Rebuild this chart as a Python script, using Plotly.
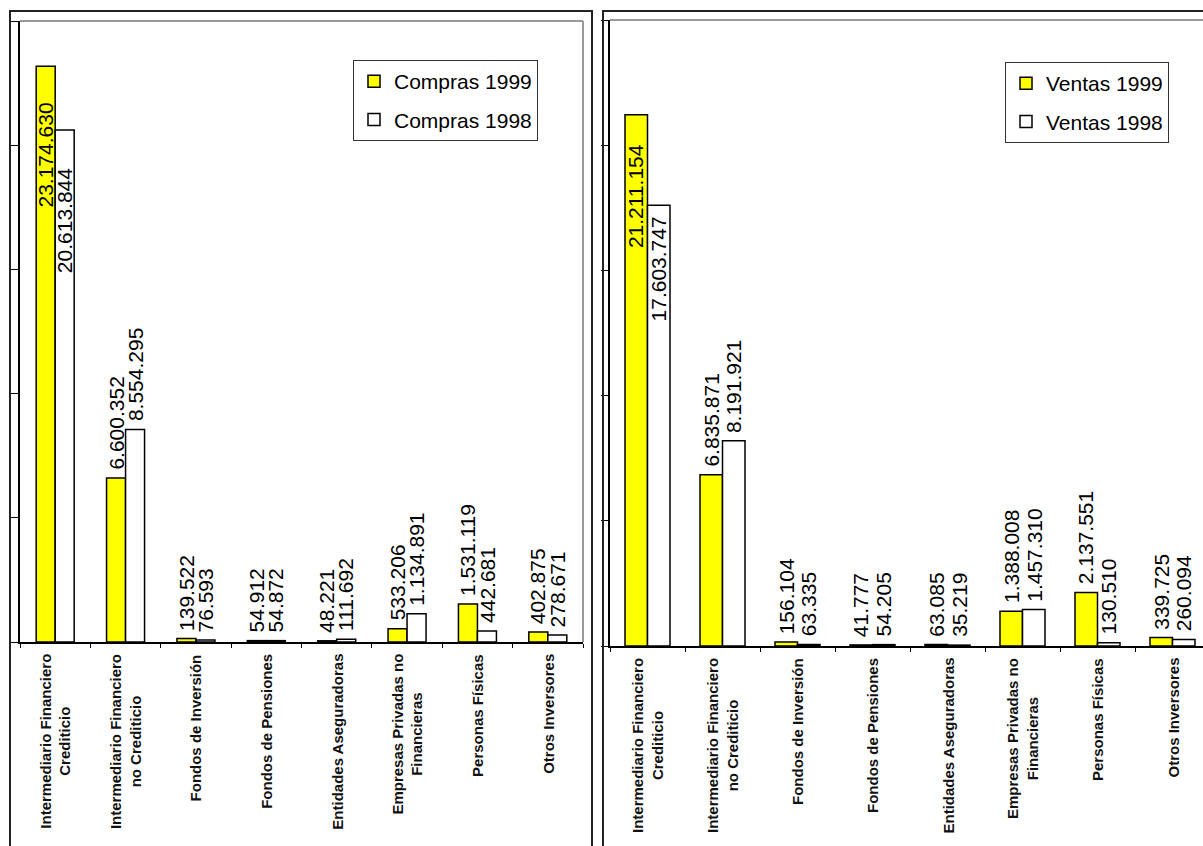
import plotly.graph_objects as go

# ---------------- data ----------------
categories = [
    "Intermediario Financiero<br>Crediticio",
    "Intermediario Financiero<br>no Crediticio",
    "Fondos de Inversión",
    "Fondos de Pensiones",
    "Entidades Aseguradoras",
    "Empresas Privadas no<br>Financieras",
    "Personas Físicas",
    "Otros Inversores",
]
compras_1999 = [23174630, 6600352, 139522, 54912, 48221, 533206, 1531119, 402875]
compras_1998 = [20613844, 8554295, 76593, 54872, 111692, 1134891, 442681, 278671]
ventas_1999 = [21211154, 6835871, 156104, 41777, 63085, 1388008, 2137551, 339725]
ventas_1998 = [17603747, 8191921, 63335, 54205, 35219, 1457310, 130510, 260094]

y_max = 25000000
y_step = 5000000

# label offsets (pixels) for labels drawn inside the tallest bars
inside_gap = {"c99": 34, "c98": 36, "v99": 27, "v98": 9}
outside_gap = 6

W, H = 1203, 846
FONT = "Liberation Sans, Arial, sans-serif"
YELLOW = "#FFFF00"


def fmt(v):
    return f"{v:,}".replace(",", ".")


fig = go.Figure()
xidx = list(range(len(categories)))

panels = [
    dict(xa="x", ya="y", legend="legend", bw=0.27,
         series=[("Compras 1999", compras_1999, YELLOW, "c99"),
                 ("Compras 1998", compras_1998, "white", "c98")]),
    dict(xa="x2", ya="y2", legend="legend2", bw=0.30,
         series=[("Ventas 1999", ventas_1999, YELLOW, "v99"),
                 ("Ventas 1998", ventas_1998, "white", "v98")]),
]

annotations = []
for p in panels:
    for k, (name, vals, col, key) in enumerate(p["series"]):
        off = -p["bw"] if k == 0 else 0.0
        fig.add_trace(go.Bar(
            x=xidx, y=vals, name=name, xaxis=p["xa"], yaxis=p["ya"],
            width=p["bw"], offset=off,
            marker=dict(color=col, line=dict(color="black", width=1.5)),
            legend=p["legend"], legendgroup=name, hoverinfo="skip",
        ))
        for i, v in enumerate(vals):
            inside = v > 15000000
            annotations.append(dict(
                x=i + off + p["bw"] / 2, y=v, xref=p["xa"], yref=p["ya"],
                text=fmt(v), textangle=-90, showarrow=False,
                font=dict(family=FONT, size=21, color="black"),
                xanchor="center",
                yanchor="top" if inside else "bottom",
                yshift=-inside_gap[key] if inside else outside_gap,
            ))
    for i, c in enumerate(categories):
        annotations.append(dict(
            x=i, y=0, xref=p["xa"], yref=p["ya"] + " domain",
            text="<b>" + c.replace("<br>", "</b><br><b>") + "</b>",
            textangle=-90, showarrow=False, align="center",
            font=dict(family=FONT, size=15, color="#111"),
            xanchor="center", yanchor="top", yshift=-10,
        ))

# right panel shows 593 px of a 600 px wide (8 x 75 px) category band
right_range_end = -0.5 + (W - 610) / 75.0

common_x = dict(showgrid=False, zeroline=False, showticklabels=False,
                showline=True, linecolor="black", linewidth=1.5,
                ticks="outside", ticklen=4, tickcolor="black", tickwidth=1,
                tickmode="linear", tick0=-0.5, dtick=1)
common_y = dict(showgrid=False, zeroline=False, showticklabels=False,
                showline=True, linecolor="black", linewidth=1.5,
                ticks="outside", ticklen=7, tickcolor="black", tickwidth=1,
                range=[0, y_max], tickmode="linear", tick0=0, dtick=y_step)

fig.update_layout(
    width=W, height=H, margin=dict(l=0, r=0, t=0, b=0),
    paper_bgcolor="white", plot_bgcolor="white",
    barmode="overlay", showlegend=True,
    xaxis=dict(domain=[20 / W, 583 / W], range=[-0.5, 7.5], anchor="y", **common_x),
    yaxis=dict(domain=[1 - 642 / H, 1 - 21 / H], anchor="x", **common_y),
    xaxis2=dict(domain=[610 / W, 1.0], range=[-0.5, right_range_end], anchor="y2", **common_x),
    yaxis2=dict(domain=[1 - 646 / H, 1 - 20 / H], anchor="x2", **common_y),
    # overlay axes giving the inner half of the crossing tick marks
    xaxis3=dict(overlaying="x", anchor="y", side="bottom", range=[-0.5, 7.5],
                **{**common_x, "ticks": "inside", "ticklen": 5, "showline": False}),
    yaxis3=dict(overlaying="y", anchor="x", side="left",
                **{**common_y, "ticks": "inside", "showline": False}),
    xaxis4=dict(overlaying="x2", anchor="y2", side="bottom", range=[-0.5, right_range_end],
                **{**common_x, "ticks": "inside", "ticklen": 5, "showline": False}),
    yaxis4=dict(overlaying="y2", anchor="x2", side="left",
                **{**common_y, "ticks": "inside", "showline": False}),
    legend=dict(x=353 / W, y=1 - 60 / H, xanchor="left", yanchor="top",
                bgcolor="white", bordercolor="#333", borderwidth=1,
                font=dict(family=FONT, size=21, color="black"),
                traceorder="grouped", tracegroupgap=8, itemclick=False),
    legend2=dict(x=1005 / W, y=1 - 62 / H, xanchor="left", yanchor="top",
                 bgcolor="white", bordercolor="#333", borderwidth=1,
                 font=dict(family=FONT, size=21, color="black"),
                 traceorder="grouped", tracegroupgap=8, itemclick=False),
    annotations=annotations,
)

shapes = [
    # outer chart frames
    dict(type="rect", xref="paper", yref="paper", x0=10 / W, x1=592 / W,
         y0=-0.02, y1=1 - 11 / H, line=dict(color="#222", width=2)),
    dict(type="rect", xref="paper", yref="paper", x0=603 / W, x1=1.02,
         y0=-0.02, y1=1 - 11 / H, line=dict(color="#222", width=2)),
    # grey plot-area borders (top / right)
    dict(type="line", xref="x domain", yref="y domain", x0=0, x1=1, y0=1, y1=1,
         line=dict(color="#999", width=2)),
    dict(type="line", xref="x domain", yref="y domain", x0=1, x1=1, y0=0, y1=1,
         line=dict(color="#999", width=2)),
    dict(type="line", xref="x2 domain", yref="y2 domain", x0=0, x1=1, y0=1, y1=1,
         line=dict(color="#999", width=2)),
]
fig.update_layout(shapes=shapes)

fig.write_html("out.html", config={"displayModeBar": False},
               post_script="document.body.style.margin='0';")
